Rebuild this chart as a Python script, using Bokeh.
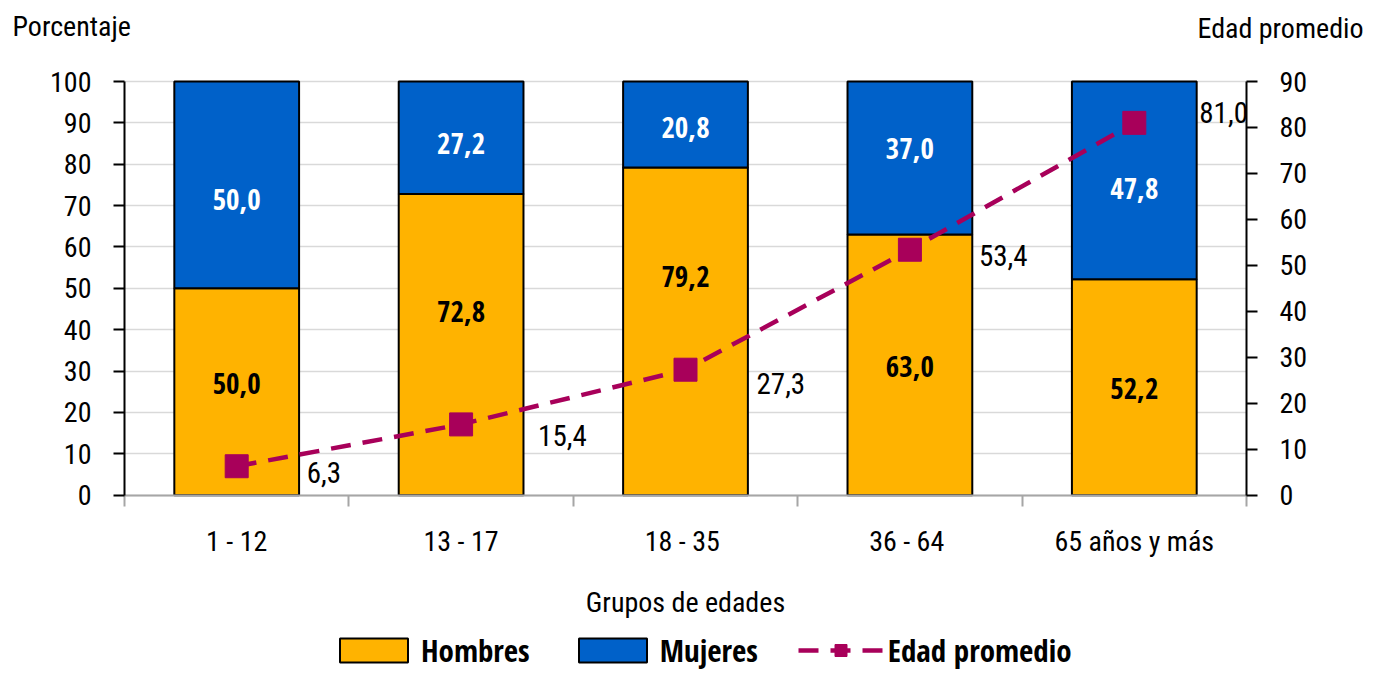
from bokeh.plotting import figure
from bokeh.models import (ColumnDataSource, Range1d, LinearAxis, FixedTicker, Label,
                          Legend, LegendItem)
from bokeh.core.properties import value
from bokeh.embed import file_html
from bokeh.resources import INLINE

# ---------------- data ----------------
categories = ["1 - 12", "13 - 17", "18  - 35", "36  - 64", "65 años y más"]
hombres = [50.0, 72.8, 79.2, 63.0, 52.2]
mujeres = [50.0, 27.2, 20.8, 37.0, 47.8]
edad_promedio = [6.3, 15.4, 27.3, 53.4, 81.0]
pct_ticks = list(range(0, 101, 10))
age_ticks = list(range(0, 91, 10))

# ---------------- label nudges (screen px, styling only) ----------------
hombres_yoff = [-8, -33, -55, 2, 1]
mujeres_yoff = [15, 6, 3, -10, 8]
edad_xoff = [70, 77, 71, 69, 65]
edad_yoff = [6, 11, 14, 6, -10]

FONT = ("Roboto Condensed, Open Sans Condensed Light, Open Sans Condensed, "
        "Noto Sans, sans-serif")
FONT_B = "Open Sans Condensed, Roboto Condensed, Noto Sans, sans-serif"
ORANGE = "#FFB300"
BLUE = "#0061C9"
WINE = "#A8005A"
GRID = "#D9D9D9"
AXGREY = "#A6A6A6"

# ---------------- page geometry (px) ----------------
W, H = 1376, 672
PL, PR, PT, PB = 124, 1246, 81, 494.7      # plot-area edges on the page
n = len(categories)
px_cat = (PR - PL) / n
px_pct = (PB - PT) / 100.0


def fmt(v):
    return f"{v:.1f}".replace(".", ",")


x = list(range(n))
src = ColumnDataSource(dict(
    x=x, hombres=hombres, mujeres=mujeres, edad=edad_promedio,
    h_mid=[h / 2 for h in hombres],
    m_mid=[h + m / 2 for h, m in zip(hombres, mujeres)],
    h_lab=[fmt(v) for v in hombres],
    m_lab=[fmt(v) for v in mujeres],
    e_lab=[fmt(v) for v in edad_promedio],
    h_yoff=hombres_yoff, m_yoff=mujeres_yoff,
    e_xoff=edad_xoff, e_yoff=edad_yoff,
))

x0, x1 = x[0] - 0.5, x[-1] + 0.5
y_lo = -(H - PB) / px_pct
y_hi = 100 + PT / px_pct
p = figure(width=W, height=H,
           x_range=Range1d(x0 - PL / px_cat, x1 + (W - PR) / px_cat),
           y_range=Range1d(y_lo, y_hi),
           output_backend="svg", toolbar_location=None,
           min_border_left=0, min_border_right=0, min_border_top=0, min_border_bottom=0)
p.outline_line_color = None
age_scale = age_ticks[-1] / 100.0
p.extra_y_ranges = {"age": Range1d(y_lo * age_scale, y_hi * age_scale)}

# grid
p.xgrid.visible = False
yg = p.ygrid[0]
yg.ticker = FixedTicker(ticks=pct_ticks)
yg.grid_line_color = GRID
yg.grid_line_width = 1.5
if "cross_bounds" in yg.properties():
    yg.cross_bounds = (x0, x1)
else:
    yg.visible = False
    p.segment(x0=[x0] * len(pct_ticks), x1=[x1] * len(pct_ticks), y0=pct_ticks, y1=pct_ticks,
              line_color=GRID, line_width=1.5, level="underlay")

# x axis
xa = p.xaxis[0]
xa.fixed_location = 0
xa.bounds = (x0, x1)
xa.ticker = FixedTicker(ticks=x, minor_ticks=[i - 0.5 for i in x] + [x1])
xa.major_label_overrides = {i: c for i, c in zip(x, categories)}
xa.major_tick_out = 0
xa.major_tick_in = 0
xa.minor_tick_out = 11
xa.minor_tick_in = 0
xa.minor_tick_line_color = AXGREY
xa.minor_tick_line_width = 2
xa.axis_line_color = AXGREY
xa.axis_line_width = 2
xa.major_label_text_font = FONT
xa.major_label_text_font_size = "28px"
xa.major_label_text_color = "black"
xa.major_label_standoff = 19
xa.axis_label = "Grupos de edades"
xa.axis_label_text_font = FONT
xa.axis_label_text_font_size = "28px"
xa.axis_label_text_font_style = "normal"
xa.axis_label_text_color = "black"
xa.axis_label_standoff = 24


def style_y(ax):
    ax.axis_line_color = "black"
    ax.axis_line_width = 2
    ax.major_tick_out = 11
    ax.major_tick_in = 0
    ax.major_tick_line_color = "black"
    ax.major_tick_line_width = 2
    ax.minor_tick_out = 0
    ax.minor_tick_in = 0
    ax.major_label_text_font = FONT
    ax.major_label_text_font_size = "28px"
    ax.major_label_text_color = "black"
    ax.major_label_standoff = 22


ya = p.yaxis[0]
ya.ticker = FixedTicker(ticks=pct_ticks)
ya.fixed_location = x0
ya.bounds = (pct_ticks[0], pct_ticks[-1])
style_y(ya)
yr = LinearAxis(y_range_name="age", ticker=FixedTicker(ticks=age_ticks),
                fixed_location=x1, bounds=(age_ticks[0], age_ticks[-1]))
style_y(yr)
p.add_layout(yr, "right")

# bars
bars = p.vbar_stack(["hombres", "mujeres"], x="x", width=0.556, source=src,
                    fill_color=[ORANGE, BLUE], line_color="black", line_width=2)

# line
ln = p.line("x", "edad", source=src, y_range_name="age", line_color=WINE,
            line_width=4.5, line_dash="20 12")
sq = p.scatter("x", "edad", source=src, y_range_name="age", marker="square",
               size=23, fill_color=WINE, line_color=WINE)

# value labels
p.text("x", "h_mid", text="h_lab", source=src, y_offset="h_yoff",
       text_font=value(FONT_B), text_font_size="29px", text_font_style="bold",
       text_color="black", text_align="center", text_baseline="middle")
p.text("x", "m_mid", text="m_lab", source=src, y_offset="m_yoff",
       text_font=value(FONT_B), text_font_size="29px", text_font_style="bold",
       text_color="white", text_align="center", text_baseline="middle")
p.text("x", "edad", text="e_lab", source=src, y_range_name="age",
       x_offset="e_xoff", y_offset="e_yoff",
       text_font=value(FONT), text_font_size="29px", text_font_style="normal",
       text_color="black", text_align="left", text_baseline="middle")

# axis titles
p.add_layout(Label(x=12, y=H - 26, x_units="screen", y_units="screen",
                   text="Porcentaje", text_font=FONT, text_font_size="28px",
                   text_color="black", text_baseline="middle", text_align="left"))
p.add_layout(Label(x=1363, y=H - 28, x_units="screen", y_units="screen",
                   text="Edad promedio", text_font=FONT, text_font_size="28px",
                   text_color="black", text_baseline="middle", text_align="right"))

# legend
legend = Legend(items=[
    LegendItem(label="Hombres", renderers=[bars[0]]),
    LegendItem(label="Mujeres", renderers=[bars[1]]),
    LegendItem(label="Edad promedio", renderers=[ln, sq]),
], orientation="horizontal", location=(331, 1))
legend.glyph_width = 85
legend.glyph_height = 30
legend.label_standoff = 5
legend.spacing = 40
legend.padding = 0
legend.margin = 0
legend.border_line_color = None
legend.background_fill_alpha = 0
legend.label_text_font = FONT_B
legend.label_text_font_size = "31px"
legend.label_text_font_style = "bold"
legend.label_text_color = "black"
p.add_layout(legend, "center")

open("out.html", "w").write(file_html(p, INLINE))
